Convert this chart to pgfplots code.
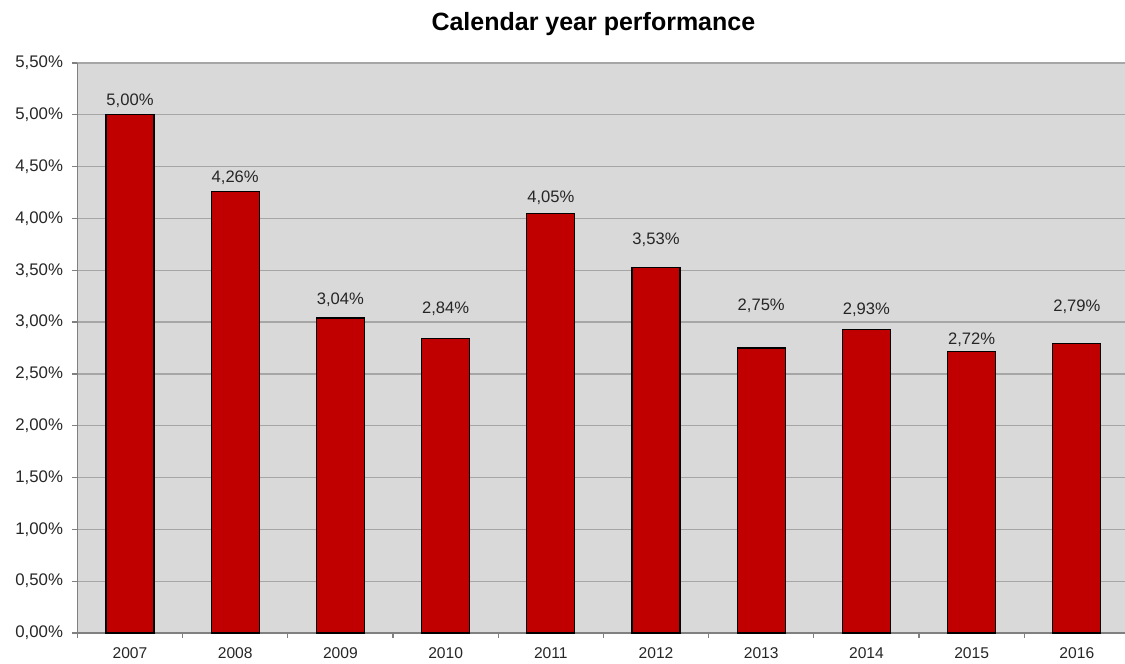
\documentclass[border=0pt]{standalone}
\usepackage{pgfplots}
\pgfplotsset{compat=1.18}
\usepackage{fontspec}
\setmainfont{Liberation Sans}
\definecolor{bgg}{HTML}{D9D9D9}
\definecolor{barred}{HTML}{C00000}
\definecolor{gridg}{HTML}{A6A6A6}
\definecolor{axisg}{HTML}{808080}
\begin{document}
\begin{tikzpicture}
\useasboundingbox (-38.7pt,-15.5pt) rectangle (523.8pt,316.5pt);
\begin{axis}[
  at={(0pt,0pt)}, anchor=south west,
  scale only axis, width=523.8pt, height=285pt,
  xmin=-0.5, xmax=9.458, ymin=0, ymax=5.5,
  axis background/.style={fill=bgg},
  axis x line*=bottom, axis y line*=left,
  axis line style={draw=axisg, line width=0.6pt},
  ytick={0,0.5,1,1.5,2,2.5,3,3.5,4,4.5,5,5.5},
  yticklabel={\pgfmathprintnumber[fixed,fixed zerofill,precision=2,use comma]{\tick}\%},
  ymajorgrids, major grid style={draw=gridg, line width=0.6pt},
  xtick={-0.5,0.5,1.5,2.5,3.5,4.5,5.5,6.5,7.5,8.5},
  xticklabels={{},{},{},{},{},{},{},{},{},{}},
  extra x ticks={0,1,2,3,4,5,6,7,8,9},
  extra x tick labels={2007,2008,2009,2010,2011,2012,2013,2014,2015,2016},
  extra x tick style={tick style={draw=none}},
  tick align=outside, major tick length=2.5pt,
  tick style={draw=axisg, line width=0.6pt},
  /pgf/number format/assume math mode=true,
  tick label style={font=\fontsize{7.8}{9}\selectfont, text=black!85},
  y tick label style={inner sep=0pt, xshift=-4.5pt, font=\fontsize{8.4}{9}\selectfont},
  x tick label style={inner sep=0pt, yshift=-4.5pt},
  clip=false,
]
\addplot[ybar, bar width=24pt, bar shift=0pt, fill=barred, draw=black, line width=0.6pt]
  coordinates {(0,5.00) (1,4.26) (2,3.04) (3,2.84) (4,4.05) (5,3.53) (6,2.75) (7,2.93) (8,2.72) (9,2.79)};
\addplot[draw=none, mark=none, nodes near coords, point meta=explicit,
  nodes near coords={\pgfmathprintnumber[fixed,fixed zerofill,precision=2,use comma,assume math mode=true]{\pgfplotspointmeta}\%},
  every node near coord/.style={anchor=center, inner sep=0pt, font=\fontsize{8.3}{9}\selectfont, text=black!85}]
  table[x=x, y=y, meta=v] {
x y v
0 5.14 5.00
1 4.39 4.26
2 3.22 3.04
3 3.13 2.84
4 4.20 4.05
5 3.79 3.53
6 3.16 2.75
7 3.12 2.93
8 2.83 2.72
9 3.15 2.79
};
\end{axis}
\node[font=\bfseries\fontsize{12.5}{14}\selectfont] at (258pt,304.5pt) {Calendar year performance};
\end{tikzpicture}
\end{document}
